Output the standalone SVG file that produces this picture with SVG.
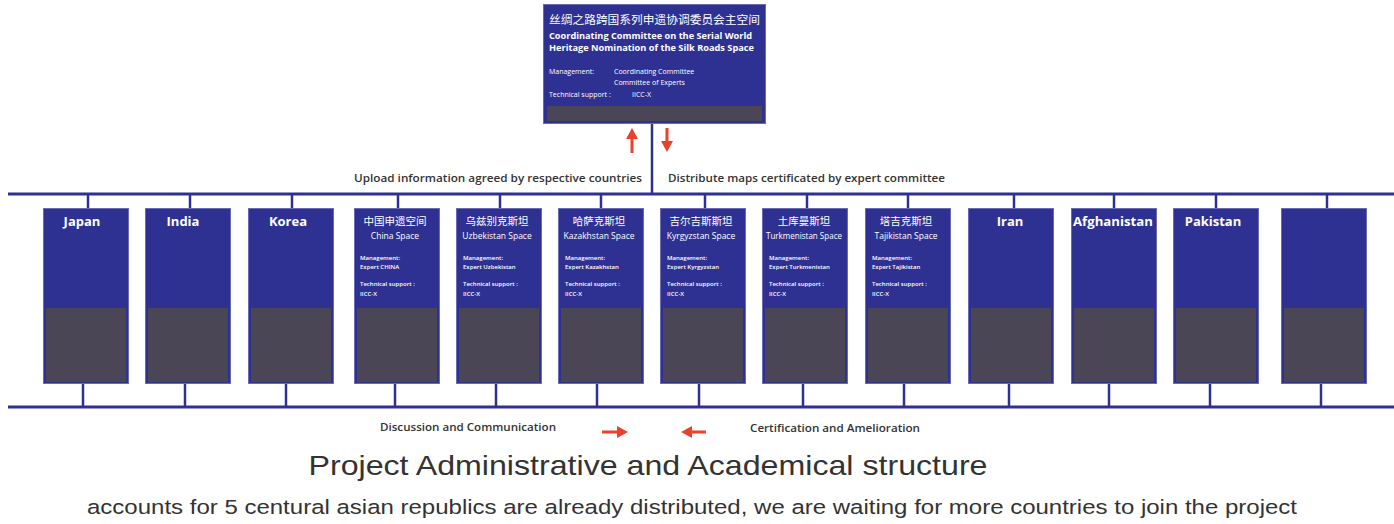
<svg xmlns="http://www.w3.org/2000/svg" width="1394" height="524" viewBox="0 0 1394 524">
<defs>
<style>
.box{fill:#2e3192;stroke:#6b6bb5;stroke-width:1}
.dark{fill:#4a4656}
.bus{stroke:#2e3192;stroke-width:3;fill:none}
.con{stroke:#2e3192;stroke-width:2.5;fill:none}
.arr{stroke:#e8412c;stroke-width:3;fill:none}
.ah{fill:#e8412c}
.name{font-family:"Open Sans","Liberation Sans",sans-serif;font-weight:700;font-size:13px;fill:#ffffff;text-anchor:middle}
.cn{font-family:"Noto Sans CJK SC",sans-serif;font-size:10.5px;fill:#ffffff;text-anchor:middle}
.sp{font-family:"Open Sans","Liberation Sans",sans-serif;font-size:8.5px;fill:#ffffff;text-anchor:middle}
.sm{font-family:"Open Sans","Liberation Sans",sans-serif;font-size:6px;font-weight:600;fill:#ffffff}
.tw{font-family:"Open Sans","Liberation Sans",sans-serif;font-size:8.5px;font-weight:700;fill:#ffffff}
.tm{font-family:"Open Sans","Liberation Sans",sans-serif;font-size:7px;fill:#ffffff}
.lab{font-family:"Open Sans","Liberation Sans",sans-serif;font-size:10px;font-weight:600;fill:#333333}
.title{font-family:"Liberation Sans",Arial,sans-serif;font-size:28px;fill:#333333;text-anchor:middle}
.sub{font-family:"Liberation Sans",Arial,sans-serif;font-size:20.5px;fill:#333333;text-anchor:middle}
</style>
</defs>
<rect width="1394" height="524" fill="#ffffff"/>

<g id="connectors">
<line class="bus" x1="8" y1="194" x2="1394" y2="194"/>
<line class="bus" x1="8" y1="407" x2="1394" y2="407"/>
<line class="con" x1="652" y1="118" x2="652" y2="194"/>
<line class="con" x1="88" y1="194" x2="88" y2="208"/>
<line class="con" x1="190" y1="194" x2="190" y2="208"/>
<line class="con" x1="292" y1="194" x2="292" y2="208"/>
<line class="con" x1="398" y1="194" x2="398" y2="208"/>
<line class="con" x1="500" y1="194" x2="500" y2="208"/>
<line class="con" x1="601" y1="194" x2="601" y2="208"/>
<line class="con" x1="705" y1="194" x2="705" y2="208"/>
<line class="con" x1="807" y1="194" x2="807" y2="208"/>
<line class="con" x1="908" y1="194" x2="908" y2="208"/>
<line class="con" x1="1014" y1="194" x2="1014" y2="208"/>
<line class="con" x1="1114" y1="194" x2="1114" y2="208"/>
<line class="con" x1="1216" y1="194" x2="1216" y2="208"/>
<line class="con" x1="1327" y1="194" x2="1327" y2="208"/>
<line class="con" x1="83" y1="383" x2="83" y2="407"/>
<line class="con" x1="185" y1="383" x2="185" y2="407"/>
<line class="con" x1="286" y1="383" x2="286" y2="407"/>
<line class="con" x1="395" y1="383" x2="395" y2="407"/>
<line class="con" x1="496" y1="383" x2="496" y2="407"/>
<line class="con" x1="597" y1="383" x2="597" y2="407"/>
<line class="con" x1="699" y1="383" x2="699" y2="407"/>
<line class="con" x1="803" y1="383" x2="803" y2="407"/>
<line class="con" x1="904" y1="383" x2="904" y2="407"/>
<line class="con" x1="1009" y1="383" x2="1009" y2="407"/>
<line class="con" x1="1109" y1="383" x2="1109" y2="407"/>
<line class="con" x1="1210" y1="383" x2="1210" y2="407"/>
<line class="con" x1="1321" y1="383" x2="1321" y2="407"/>
<!-- red arrows -->
<line class="arr" x1="632" y1="153" x2="632" y2="138"/>
<polygon class="ah" points="626,139 638,139 632,128"/>
<line class="arr" x1="667" y1="128" x2="667" y2="142"/>
<polygon class="ah" points="661,141 673,141 667,152"/>
<line class="arr" x1="602" y1="432" x2="618" y2="432"/>
<polygon class="ah" points="617,426 617,438 628,432"/>
<line class="arr" x1="706" y1="432" x2="691" y2="432"/>
<polygon class="ah" points="692,426 692,438 681,432"/>
</g>

<g id="labels">
<text class="lab" x="354" y="182" textLength="288" lengthAdjust="spacingAndGlyphs">Upload information agreed by respective countries</text>
<text class="lab" x="668" y="182" textLength="277" lengthAdjust="spacingAndGlyphs">Distribute maps certificated by expert committee</text>
<text class="lab" x="380" y="431" textLength="176" lengthAdjust="spacingAndGlyphs">Discussion and Communication</text>
<text class="lab" x="750" y="432" textLength="170" lengthAdjust="spacingAndGlyphs">Certification and Amelioration</text>
<text class="title" x="648" y="475" textLength="679" lengthAdjust="spacingAndGlyphs">Project Administrative and Academical structure</text>
<text class="sub" x="692" y="514" textLength="1210" lengthAdjust="spacingAndGlyphs">accounts for 5 centural asian republics are already distributed, we are waiting for more countries to join the project</text>
</g>

<g id="coordinating-committee">
<rect class="box" x="543.5" y="4.5" width="222" height="119"/>
<rect class="dark" x="547" y="106" width="215" height="15"/>
<text class="cn" x="549" y="24" style="text-anchor:start;font-size:11px" textLength="211" lengthAdjust="spacingAndGlyphs">丝绸之路跨国系列申遗协调委员会主空间</text>
<text class="tw" x="549" y="39" textLength="203" lengthAdjust="spacingAndGlyphs">Coordinating Committee on the Serial World</text>
<text class="tw" x="549" y="51" textLength="205" lengthAdjust="spacingAndGlyphs">Heritage Nomination of the Silk Roads Space</text>
<text class="tm" x="549" y="74">Management:</text>
<text class="tm" x="614" y="74">Coordinating Committee</text>
<text class="tm" x="614" y="85">Committee of Experts</text>
<text class="tm" x="549" y="97">Technical support :</text>
<text class="tm" x="632" y="97">IICC-X</text>
</g>

<g id="japan">
<rect class="box" x="43.5" y="208.5" width="85" height="175"/>
<rect class="dark" x="46" y="308" width="80" height="74"/>
<text class="name" x="82" y="226">Japan</text>
</g>
<g id="india">
<rect class="box" x="145.5" y="208.5" width="85" height="175"/>
<rect class="dark" x="148" y="308" width="80" height="74"/>
<text class="name" x="183" y="226">India</text>
</g>
<g id="korea">
<rect class="box" x="248.5" y="208.5" width="85" height="175"/>
<rect class="dark" x="251" y="308" width="80" height="74"/>
<text class="name" x="288" y="226">Korea</text>
</g>

<g id="china">
<rect class="box" x="354.5" y="208.5" width="85" height="175"/>
<rect class="dark" x="357" y="308" width="80" height="74"/>
<text class="cn" x="395" y="225">中国申遗空间</text>
<text class="sp" x="395" y="239">China Space</text>
<text class="sm" x="360" y="260">Management:</text>
<text class="sm" x="360" y="269">Expert CHINA</text>
<text class="sm" x="360" y="286">Technical support :</text>
<text class="sm" x="360" y="296">IICC-X</text>
</g>
<g id="uzbekistan">
<rect class="box" x="456.5" y="208.5" width="85" height="175"/>
<rect class="dark" x="459" y="308" width="80" height="74"/>
<text class="cn" x="497" y="225">乌兹别克斯坦</text>
<text class="sp" x="497" y="239">Uzbekistan Space</text>
<text class="sm" x="463" y="260">Management:</text>
<text class="sm" x="463" y="269">Expert Uzbekistan</text>
<text class="sm" x="463" y="286">Technical support :</text>
<text class="sm" x="463" y="296">IICC-X</text>
</g>
<g id="kazakhstan">
<rect class="box" x="558.5" y="208.5" width="85" height="175"/>
<rect class="dark" x="561" y="308" width="80" height="74"/>
<text class="cn" x="599" y="225">哈萨克斯坦</text>
<text class="sp" x="599" y="239">Kazakhstan Space</text>
<text class="sm" x="565" y="260">Management:</text>
<text class="sm" x="565" y="269">Expert Kazakhstan</text>
<text class="sm" x="565" y="286">Technical support :</text>
<text class="sm" x="565" y="296">IICC-X</text>
</g>
<g id="kyrgyzstan">
<rect class="box" x="660.5" y="208.5" width="85" height="175"/>
<rect class="dark" x="663" y="308" width="80" height="74"/>
<text class="cn" x="701" y="225">吉尔吉斯斯坦</text>
<text class="sp" x="701" y="239">Kyrgyzstan Space</text>
<text class="sm" x="667" y="260">Management:</text>
<text class="sm" x="667" y="269">Expert Kyrgyzstan</text>
<text class="sm" x="667" y="286">Technical support :</text>
<text class="sm" x="667" y="296">IICC-X</text>
</g>
<g id="turkmenistan">
<rect class="box" x="762.5" y="208.5" width="85" height="175"/>
<rect class="dark" x="765" y="308" width="80" height="74"/>
<text class="cn" x="804" y="225">土库曼斯坦</text>
<text class="sp" x="804" y="239" textLength="76" lengthAdjust="spacingAndGlyphs">Turkmenistan Space</text>
<text class="sm" x="769" y="260">Management:</text>
<text class="sm" x="769" y="269">Expert Turkmenistan</text>
<text class="sm" x="769" y="286">Technical support :</text>
<text class="sm" x="769" y="296">IICC-X</text>
</g>
<g id="tajikistan">
<rect class="box" x="865.5" y="208.5" width="85" height="175"/>
<rect class="dark" x="868" y="308" width="80" height="74"/>
<text class="cn" x="906" y="225">塔吉克斯坦</text>
<text class="sp" x="906" y="239">Tajikistan Space</text>
<text class="sm" x="872" y="260">Management:</text>
<text class="sm" x="872" y="269">Expert Tajikistan</text>
<text class="sm" x="872" y="286">Technical support :</text>
<text class="sm" x="872" y="296">IICC-X</text>
</g>

<g id="iran">
<rect class="box" x="968.5" y="208.5" width="85" height="175"/>
<rect class="dark" x="971" y="308" width="80" height="74"/>
<text class="name" x="1010" y="226">Iran</text>
</g>
<g id="afghanistan">
<rect class="box" x="1071.5" y="208.5" width="85" height="175"/>
<rect class="dark" x="1074" y="308" width="80" height="74"/>
<text class="name" x="1113" y="226" textLength="80" lengthAdjust="spacingAndGlyphs">Afghanistan</text>
</g>
<g id="pakistan">
<rect class="box" x="1173.5" y="208.5" width="85" height="175"/>
<rect class="dark" x="1176" y="308" width="80" height="74"/>
<text class="name" x="1213" y="226">Pakistan</text>
</g>
<g id="empty-slot">
<rect class="box" x="1281.5" y="208.5" width="85" height="175"/>
<rect class="dark" x="1284" y="308" width="80" height="74"/>
</g>
</svg>
